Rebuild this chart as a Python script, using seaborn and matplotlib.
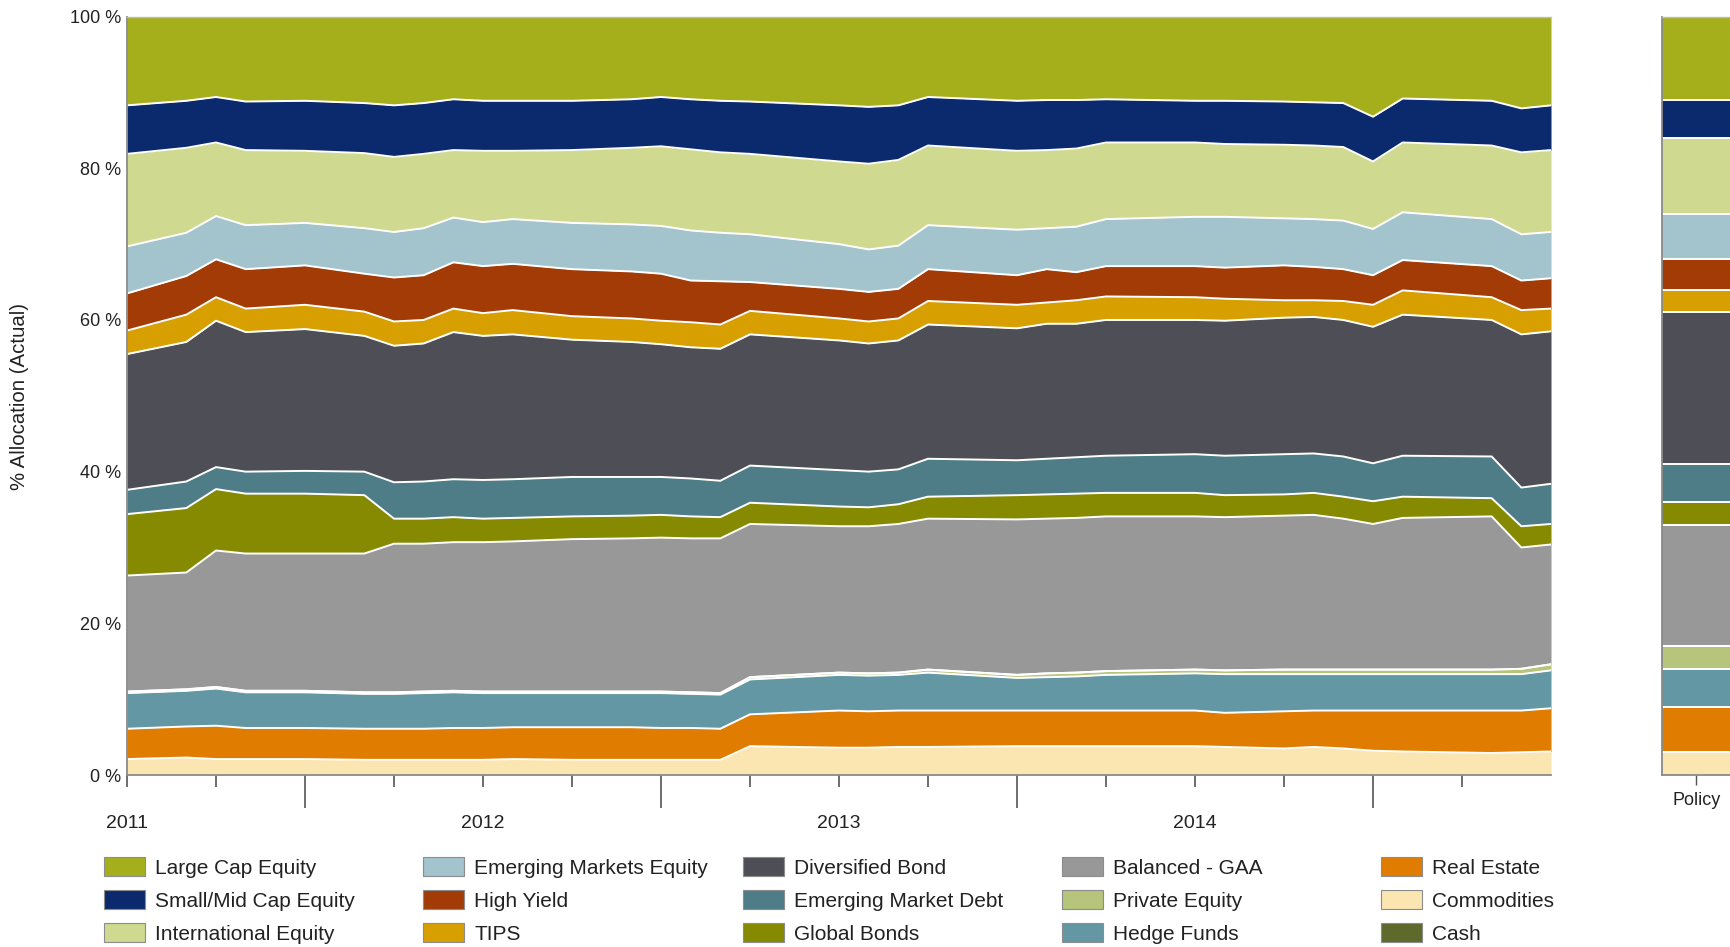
import matplotlib
matplotlib.use("Agg")
import matplotlib.pyplot as plt
from matplotlib.patches import Patch
import numpy as np
import seaborn as sns

# month index since Jan 2011 (only the months where the lines bend)
months = [0, 2, 3, 4, 6, 8, 9, 10, 11, 12, 13, 15, 17, 18, 19, 20, 21,
          24, 25, 26, 27, 30, 31, 32, 33, 36, 37, 39, 40, 41, 42, 43, 46, 47, 48]

large_cap = [11.7, 11.1, 10.6, 11.2, 11.1, 11.4, 11.7, 11.4, 10.9, 11.1, 11.1, 11.1, 10.9, 10.6, 10.9, 11.1, 11.2,
             11.7, 11.9, 11.7, 10.6, 11.1, 11.0, 11.0, 10.9, 11.1, 11.1, 11.2, 11.3, 11.4, 13.2, 10.8, 11.1, 12.1, 11.7]
small_mid = [6.4, 6.2, 6.0, 6.4, 6.6, 6.6, 6.8, 6.7, 6.7, 6.6, 6.6, 6.5, 6.4, 6.5, 6.6, 6.8, 6.9,
             7.4, 7.5, 7.2, 6.4, 6.6, 6.6, 6.4, 5.7, 5.5, 5.7, 5.7, 5.7, 5.8, 5.9, 5.8, 5.9, 5.8, 5.9]
intl_equity = [12.2, 11.2, 9.7, 9.9, 9.5, 9.9, 9.9, 9.8, 8.9, 9.4, 9.0, 9.6, 10.1, 10.5, 10.7, 10.6, 10.6,
               10.9, 11.3, 11.3, 10.5, 10.4, 10.3, 10.3, 10.1, 9.8, 9.6, 9.7, 9.7, 9.7, 8.9, 9.2, 9.7, 10.8, 10.8]
em_equity = [6.2, 5.7, 5.7, 5.8, 5.6, 6.0, 6.0, 6.2, 5.9, 5.8, 5.9, 6.1, 6.2, 6.3, 6.6, 6.4, 6.3,
             5.9, 5.6, 5.7, 5.8, 6.0, 5.4, 6.0, 6.2, 6.5, 6.7, 6.2, 6.3, 6.4, 6.1, 6.3, 6.2, 6.1, 6.1]
high_yield = [4.9, 5.1, 5.0, 5.2, 5.2, 5.0, 5.8, 5.9, 6.1, 6.2, 6.1, 6.2, 6.2, 6.2, 5.5, 5.7, 3.8,
              3.9, 3.9, 3.9, 4.2, 3.9, 4.4, 3.7, 4.0, 4.1, 4.1, 4.6, 4.4, 4.2, 3.9, 4.0, 4.1, 3.9, 4.0]
tips = [3.1, 3.6, 3.1, 3.1, 3.2, 3.2, 3.2, 3.1, 3.1, 3.0, 3.2, 3.1, 3.1, 3.1, 3.3, 3.2, 3.1,
        2.9, 2.9, 2.9, 3.1, 3.1, 2.8, 3.1, 3.1, 3.0, 2.9, 2.3, 2.2, 2.5, 2.9, 3.2, 3.0, 3.2, 3.0]
div_bond = [17.9, 18.4, 19.3, 18.4, 18.7, 17.9, 18.0, 18.2, 19.4, 19.0, 19.1, 18.1, 17.8, 17.5, 17.3, 17.4, 17.3,
            17.1, 16.9, 17.0, 17.7, 17.4, 17.8, 17.6, 17.9, 17.7, 17.8, 18.0, 18.0, 18.0, 18.0, 18.6, 18.0, 20.2, 20.1]
em_debt = [3.2, 3.5, 2.9, 2.9, 3.0, 3.1, 4.8, 4.9, 5.0, 5.1, 5.1, 5.2, 5.1, 5.0, 5.0, 4.8, 4.9,
           4.8, 4.7, 4.6, 5.0, 4.6, 4.7, 4.8, 4.9, 5.1, 5.2, 5.3, 5.2, 5.3, 5.0, 5.4, 5.5, 5.1, 5.3]
global_bonds = [8.1, 8.5, 8.1, 7.9, 7.9, 7.7, 3.3, 3.3, 3.3, 3.1, 3.1, 3.0, 3.0, 3.0, 2.9, 2.8, 2.8,
                2.6, 2.5, 2.6, 2.9, 3.2, 3.2, 3.2, 3.1, 3.1, 2.9, 2.8, 2.9, 2.9, 3.0, 2.8, 2.4, 2.8, 2.7]
balanced = [15.3, 15.4, 18.0, 18.1, 18.1, 18.3, 19.6, 19.5, 19.6, 19.7, 19.8, 20.1, 20.2, 20.3, 20.3, 20.4, 20.2,
            19.3, 19.4, 19.6, 19.9, 20.5, 20.4, 20.4, 20.4, 20.2, 20.2, 20.3, 20.4, 19.9, 19.2, 20.0, 20.2, 16.0, 15.8]
cash = [0.0, 0.0, 0.0, 0.0, 0.0, 0.0, 0.0, 0.0, 0.0, 0.0, 0.0, 0.0, 0.0, 0.0, 0.0, 0.0, 0.0,
        0.0, 0.0, 0.0, 0.0, 0.0, 0.0, 0.0, 0.0, 0.0, 0.0, 0.0, 0.0, 0.0, 0.0, 0.0, 0.0, 0.0, 0.0]
private_equity = [0.2, 0.2, 0.2, 0.2, 0.2, 0.2, 0.2, 0.2, 0.2, 0.2, 0.2, 0.2, 0.2, 0.2, 0.2, 0.2, 0.3,
                  0.3, 0.3, 0.3, 0.4, 0.4, 0.5, 0.5, 0.5, 0.5, 0.5, 0.6, 0.6, 0.6, 0.6, 0.6, 0.6, 0.7, 0.8]
hedge_funds = [4.7, 4.7, 4.9, 4.7, 4.7, 4.6, 4.6, 4.7, 4.7, 4.6, 4.5, 4.5, 4.5, 4.6, 4.5, 4.5, 4.6,
               4.7, 4.7, 4.7, 5.0, 4.3, 4.4, 4.5, 4.7, 4.9, 5.1, 4.9, 4.8, 4.8, 4.8, 4.8, 4.8, 4.8, 5.0]
real_estate = [4.0, 4.1, 4.4, 4.1, 4.1, 4.1, 4.1, 4.1, 4.2, 4.2, 4.2, 4.3, 4.3, 4.2, 4.2, 4.1, 4.2,
               4.9, 4.8, 4.8, 4.8, 4.7, 4.7, 4.7, 4.7, 4.7, 4.5, 4.9, 4.8, 5.0, 5.3, 5.4, 5.6, 5.5, 5.7]
commodities = [2.1, 2.3, 2.1, 2.1, 2.1, 2.0, 2.0, 2.0, 2.0, 2.0, 2.1, 2.0, 2.0, 2.0, 2.0, 2.0, 3.8,
               3.6, 3.6, 3.7, 3.7, 3.8, 3.8, 3.8, 3.8, 3.8, 3.7, 3.5, 3.7, 3.5, 3.2, 3.1, 2.9, 3.0, 3.1]

# policy targets, same order as the stack (bottom to top)
policy = [3, 6, 5, 3, 0, 16, 3, 5, 20, 3, 4, 6, 10, 5, 11]

year_labels = ["2011", "2012", "2013", "2014"]
year_months = [0, 12, 24, 36]

# stack order, bottom to top
stack = [
    ("Commodities", commodities, "#fbe5b0"),
    ("Real Estate", real_estate, "#e07c00"),
    ("Hedge Funds", hedge_funds, "#6397a3"),
    ("Private Equity", private_equity, "#b6c47c"),
    ("Cash", cash, "#5e6a2c"),
    ("Balanced - GAA", balanced, "#989898"),
    ("Global Bonds", global_bonds, "#858a00"),
    ("Emerging Market Debt", em_debt, "#4e7d87"),
    ("Diversified Bond", div_bond, "#4e4f56"),
    ("TIPS", tips, "#d7a000"),
    ("High Yield", high_yield, "#a33b06"),
    ("Emerging Markets Equity", em_equity, "#a3c3cd"),
    ("International Equity", intl_equity, "#cfd98f"),
    ("Small/Mid Cap Equity", small_mid, "#0b2a6e"),
    ("Large Cap Equity", large_cap, "#a4af1b"),
]
colors = {name: c for name, _, c in stack}

legend_columns = [
    ["Large Cap Equity", "Small/Mid Cap Equity", "International Equity"],
    ["Emerging Markets Equity", "High Yield", "TIPS"],
    ["Diversified Bond", "Emerging Market Debt", "Global Bonds"],
    ["Balanced - GAA", "Private Equity", "Hedge Funds"],
    ["Real Estate", "Commodities", "Cash"],
]

sns.set_theme(style="white")
plt.rcParams["font.family"] = ["Liberation Sans Narrow", "Liberation Sans", "DejaVu Sans"]
text_color = "#222222"

W, H = 1731, 947
fig = plt.figure(figsize=(W / 100, H / 100), dpi=100)
ax = fig.add_axes([127 / W, 1 - 775 / H, (1551 - 127) / W, (775 - 16.6) / H])
pax = fig.add_axes([1662 / W, 1 - 775 / H, (W - 1662) / W, (775 - 16.6) / H])

values = np.array([v for _, v, _ in stack])
ax.stackplot(months, values, colors=[c for _, _, c in stack], linewidth=0)
tops = np.cumsum(values, axis=0)
for row in tops[:-1]:
    sns.lineplot(x=months, y=row, ax=ax, color="white", linewidth=1.4,
                 estimator=None, legend=False)

ax.set_xlim(0, 48)
ax.set_ylim(0, 100)
ax.set_yticks([0, 20, 40, 60, 80, 100])
ax.set_yticklabels([f"{v} %" for v in [0, 20, 40, 60, 80, 100]])
ax.tick_params(axis="y", left=True, length=0, pad=4, labelsize=13, labelcolor=text_color)

long_ticks = [6, 18, 30, 42]
short_ticks = [m for m in range(0, 48, 3) if m not in long_ticks]
ax.set_xticks(short_ticks)
ax.set_xticklabels([year_labels[year_months.index(m)] if m in year_months else "" for m in short_ticks])
ax.set_xticks(long_ticks, minor=True)
ax.tick_params(axis="x", which="both", bottom=True, color="#555555", width=1.2)
ax.tick_params(axis="x", which="major", length=8.6, pad=20.5, labelsize=14, labelcolor=text_color)
ax.tick_params(axis="x", which="minor", length=24)
ax.set_xlabel("")
ax.set_ylabel("")

for side in ["left", "bottom"]:
    ax.spines[side].set_color("#8a8a8a")
    ax.spines[side].set_linewidth(1.3)
ax.spines["top"].set_color("#bdbdbd")
ax.spines["top"].set_linewidth(1.0)
ax.spines["right"].set_visible(False)

fig.text(20 / W, 1 - 396 / H, "% Allocation (Actual)", rotation=90, ha="center", va="center",
         fontsize=14.7, color=text_color)

# policy bar
bottom = 0
for (name, _, c), v in zip(stack, policy):
    pax.bar(0, v, bottom=bottom, width=1.0, color=c, linewidth=0)
    bottom += v
for y in np.cumsum(policy)[:-1]:
    pax.axhline(y, color="white", linewidth=1.4)
pax.set_xlim(-0.5, 0.5)
pax.set_ylim(0, 100)
pax.set_yticks([])
pax.set_xticks([0])
pax.set_xticklabels(["Policy"])
pax.tick_params(axis="x", bottom=True, length=7, width=1.0, color="#555555", pad=5,
                labelsize=13, labelcolor=text_color)
for side in ["left", "bottom"]:
    pax.spines[side].set_color("#8a8a8a")
    pax.spines[side].set_linewidth(1.3)
pax.spines["top"].set_color("#bdbdbd")
pax.spines["top"].set_linewidth(1.0)
pax.spines["right"].set_visible(False)

# legend: five separate columns
col_left = [104, 423, 743, 1062, 1381]
for x0, names in zip(col_left, legend_columns):
    handles = [Patch(facecolor=colors[n], edgecolor="#8c8c8c", linewidth=0.8) for n in names]
    fig.legend(handles, names, loc="upper left", bbox_to_anchor=(x0 / W, 1 - 857 / H),
               frameon=False, fontsize=15, borderpad=0, borderaxespad=0,
               handlelength=1.97, handleheight=1.06, handletextpad=0.48, labelspacing=0.58,
               labelcolor=text_color)

fig.savefig("out.png", dpi=100)
